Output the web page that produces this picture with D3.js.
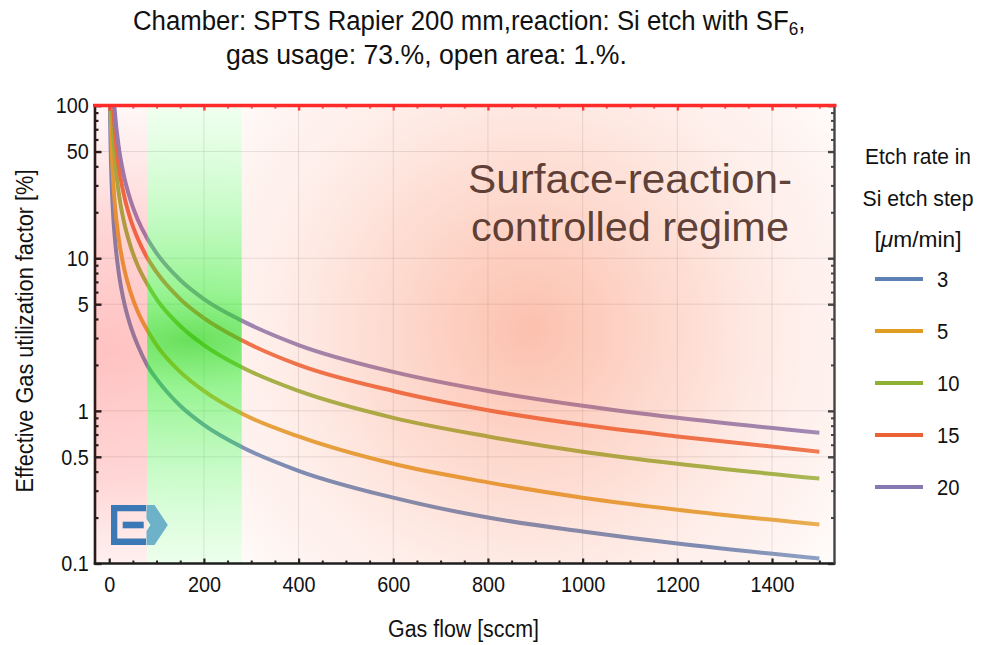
<!DOCTYPE html>
<html>
<head>
<meta charset="utf-8">
<script src="https://cdn.jsdelivr.net/npm/d3@7"></script>
<style>
    body { margin: 0; background: #fff; }
    svg { display: block; font-family: "Liberation Sans", Arial, sans-serif; }
</style>
</head>
<body>
<div id="canvas"></div>
<script>
"use strict"

let svgWidth = 991
let svgHeight = 645

let topMargin = 105.6
let rightMargin = 156.5
let bottomMargin = 81.5
let leftMargin = 95

const flowPoints = [1, 2, 3, 5, 8, 12, 20, 30, 45, 60, 80, 100, 150, 200, 280, 400, 600, 800, 1000, 1200, 1500]

// etch rates of the five curves (um/min)
const etchRates = [3, 5, 10, 15, 20]

// effective gas utilization factor (%) for each etch rate
const factorRate3 = [162, 81, 54, 32, 20, 13.5, 8.1, 5.4, 3.6, 2.7, 2.0, 1.62, 1.08, 0.81, 0.58, 0.405, 0.27, 0.2, 0.162, 0.135, 0.108]
const factorRate5 = [270, 135, 90, 54, 34, 22.5, 13.5, 9, 6, 4.5, 3.4, 2.7, 1.8, 1.35, 0.96, 0.68, 0.45, 0.34, 0.27, 0.225, 0.18]
const factorRate10 = [540, 270, 180, 108, 68, 45, 27, 18, 12, 9, 6.8, 5.4, 3.6, 2.7, 1.93, 1.35, 0.9, 0.68, 0.54, 0.45, 0.36]
const factorRate15 = [810, 405, 270, 162, 101, 68, 40, 27, 18, 13.5, 10.1, 8.1, 5.4, 4.05, 2.9, 2.0, 1.35, 1.01, 0.81, 0.68, 0.54]
const factorRate20 = [1080, 540, 360, 216, 135, 90, 54, 36, 24, 18, 13.5, 10.8, 7.2, 5.4, 3.9, 2.7, 1.8, 1.35, 1.08, 0.9, 0.72]

// flow limits of the highlighted band (sccm)
const bandLimits = [80, 280]

const xTicks = [0, 200, 400, 600, 800, 1000, 1200, 1400]
const yTicks = [0.1, 0.5, 1, 5, 10, 50, 100]
const yTickLabels = ["0.1", "0.5", "1", "5", "10", "50", "100"]

const curveColors = ["#5e81b5", "#e19c24", "#8fb032", "#eb6235", "#8778b3"]

let xScale, yScale

let svg = d3.select("#canvas")
    .append("svg")
    .attr("width", svgWidth)
    .attr("height", svgHeight)

let defs = svg.append("defs")

let plotLeft = leftMargin
let plotRight = svgWidth - rightMargin
let plotTop = topMargin
let plotBottom = svgHeight - bottomMargin

xScale = d3.scaleLinear()
    .domain([-30, 1532])
    .range([plotLeft, plotRight])

yScale = d3.scaleLog()
    .domain([0.1, 100])
    .range([plotBottom, plotTop])

defs.append("clipPath")
    .attr("id", "plotClip")
    .append("rect")
    .attr("x", plotLeft)
    .attr("y", plotTop)
    .attr("width", plotRight - plotLeft)
    .attr("height", plotBottom - plotTop)

/* gradients for the three regions */
function addStops(grad, stops) {
    grad.selectAll("stop")
        .data(stops)
        .join("stop")
        .attr("offset", d => d[0])
        .attr("stop-color", d => d[1])
        .attr("stop-opacity", d => d[2])
}

let pinkGrad = defs.append("radialGradient")
    .attr("id", "pinkGrad")
    .attr("gradientUnits", "userSpaceOnUse")
    .attr("cx", 110).attr("cy", 350).attr("r", 250)
    .attr("gradientTransform", "translate(110,350) scale(1.4,1) translate(-110,-350)")
addStops(pinkGrad, [[0, "rgb(255,95,95)", 0.38], [0.5, "rgb(255,105,105)", 0.28], [1, "rgb(255,140,140)", 0.06]])

let greenGrad = defs.append("radialGradient")
    .attr("id", "greenGrad")
    .attr("gradientUnits", "userSpaceOnUse")
    .attr("cx", 190).attr("cy", 340).attr("r", 240)
    .attr("gradientTransform", "translate(190,340) scale(2.6,1) translate(-190,-340)")
addStops(greenGrad, [[0, "rgb(40,210,20)", 0.7], [0.2, "rgb(70,235,60)", 0.56], [0.55, "rgb(110,245,110)", 0.38], [1, "rgb(165,255,165)", 0.16]])

let peachGrad = defs.append("radialGradient")
    .attr("id", "peachGrad")
    .attr("gradientUnits", "userSpaceOnUse")
    .attr("cx", 530).attr("cy", 330).attr("r", 370)
addStops(peachGrad, [[0, "rgb(248,118,78)", 0.46], [0.4, "rgb(250,138,104)", 0.31], [0.75, "rgb(252,180,160)", 0.2], [1, "rgb(255,242,236)", 0.3]])

/* grid lines */
let grid = svg.append("g").attr("class", "grid")

grid.selectAll("line.vgrid")
    .data(xTicks.filter(d => d > 0))
    .join("line")
    .classed("vgrid", true)
    .attr("x1", d => xScale(d))
    .attr("x2", d => xScale(d))
    .attr("y1", plotTop)
    .attr("y2", plotBottom)
    .attr("stroke", "#888")
    .attr("stroke-opacity", 0.25)

grid.selectAll("line.hgrid")
    .data(yTicks.filter(d => d > 0.1 && d < 100))
    .join("line")
    .classed("hgrid", true)
    .attr("x1", plotLeft)
    .attr("x2", plotRight)
    .attr("y1", d => yScale(d))
    .attr("y2", d => yScale(d))
    .attr("stroke", "#888")
    .attr("stroke-opacity", 0.25)

/* curves */
let seriesData = [factorRate3, factorRate5, factorRate10, factorRate15, factorRate20]
    .map((values, i) => ({
        rate: etchRates[i],
        color: curveColors[i],
        points: flowPoints.map((f, j) => [f, values[j]])
    }))

let line = d3.line()
    .x(d => xScale(d[0]))
    .y(d => yScale(d[1]))
    .curve(d3.curveMonotoneX)

svg.append("g")
    .attr("clip-path", "url(#plotClip)")
    .selectAll("path.curve")
    .data(seriesData)
    .join("path")
    .classed("curve", true)
    .attr("d", d => line(d.points))
    .attr("fill", "none")
    .attr("stroke", d => d.color)
    .attr("stroke-width", 4)

/* region overlays */
let overlays = svg.append("g")
overlays.append("rect")
    .attr("x", plotLeft)
    .attr("y", plotTop)
    .attr("width", xScale(bandLimits[0]) - plotLeft)
    .attr("height", plotBottom - plotTop)
    .attr("fill", "url(#pinkGrad)")
overlays.append("rect")
    .attr("x", xScale(bandLimits[0]))
    .attr("y", plotTop)
    .attr("width", xScale(bandLimits[1]) - xScale(bandLimits[0]))
    .attr("height", plotBottom - plotTop)
    .attr("fill", "url(#greenGrad)")
overlays.append("rect")
    .attr("x", xScale(bandLimits[1]))
    .attr("y", plotTop)
    .attr("width", plotRight - xScale(bandLimits[1]))
    .attr("height", plotBottom - plotTop)
    .attr("fill", "url(#peachGrad)")

/* regime text */
function fitText(sel, width) {
    let len = sel.node().getComputedTextLength()
    return width / len
}

let regime = svg.append("g")
let regimeLines = [["Surface-reaction-", 193, 324], ["controlled regime", 241, 318]]
regimeLines.forEach(function (r) {
    let t = regime.append("text")
        .attr("text-anchor", "middle")
        .attr("font-size", 40)
        .attr("fill", "#4a2a20")
        .attr("fill-opacity", 0.88)
        .text(r[0])
    let s = fitText(t, r[2])
    t.attr("transform", `translate(630,${r[1]}) scale(${s},1)`)
})

/* logo */
let logo = svg.append("g")
logo.append("path")
    .attr("d", "M146,505 H111 V545 H146 V538.5 H117.3 V511.3 H146 Z")
    .attr("fill", "#3b78b6")
logo.append("rect")
    .attr("x", 122.7).attr("y", 521.7).attr("width", 21).attr("height", 6.6)
    .attr("fill", "#3b78b6")
logo.append("path")
    .attr("d", "M146.5,505 H154.5 L167.8,525 L154.5,545 H146.5 V531 L150.5,525 L146.5,519 Z")
    .attr("fill", "#6db2c8")

/* axes and ticks */
function styleTicks(g, color, width) {
    g.select(".domain").remove()
    g.selectAll(".tick line").attr("stroke", color).attr("stroke-width", width)
}

let minorX = d3.range(0, 1501, 50).filter(d => d % 200 !== 0)
let minorY = []
;[0.1, 1, 10].forEach(function (dec) {
    for (let k = 2; k <= 9; k++) {
        if (k !== 5) minorY.push(dec * k)
    }
})

// bottom
svg.append("g")
    .attr("transform", `translate(0,${plotBottom})`)
    .call(d3.axisBottom(xScale).tickValues(minorX).tickSize(-3).tickFormat(""))
    .call(g => styleTicks(g, "#222", 2))

let xAxis = svg.append("g")
    .attr("transform", `translate(0,${plotBottom})`)
    .call(d3.axisBottom(xScale).tickValues(xTicks).tickSize(-5).tickPadding(13).tickFormat(d3.format("d")))
    .call(g => styleTicks(g, "#222", 2.2))
xAxis.selectAll("text")
    .attr("font-size", 22.5)
    .attr("fill", "#111")
    .attr("font-family", "Liberation Sans, Arial, sans-serif")
    .attr("transform", "scale(0.88,1)")

// top
svg.append("g")
    .attr("transform", `translate(0,${plotTop})`)
    .call(d3.axisTop(xScale).tickValues(minorX).tickSize(-3).tickFormat(""))
    .call(g => styleTicks(g, "#ff5050", 2))
svg.append("g")
    .attr("transform", `translate(0,${plotTop})`)
    .call(d3.axisTop(xScale).tickValues(xTicks).tickSize(-5).tickFormat(""))
    .call(g => styleTicks(g, "#ff4040", 2.4))

// left
svg.append("g")
    .attr("transform", `translate(${plotLeft},0)`)
    .call(d3.axisLeft(yScale).tickValues(minorY).tickSize(-3.5).tickFormat(""))
    .call(g => styleTicks(g, "#2a1a1a", 2.2))

let yAxis = svg.append("g")
    .attr("transform", `translate(${plotLeft},0)`)
    .call(d3.axisLeft(yScale).tickValues(yTicks).tickSize(-6.5).tickPadding(7)
        .tickFormat((d, i) => yTickLabels[i]))
    .call(g => styleTicks(g, "#2a1a1a", 2.4))
yAxis.selectAll("text")
    .attr("font-size", 22.5)
    .attr("fill", "#111")
    .attr("font-family", "Liberation Sans, Arial, sans-serif")
    .attr("transform", "scale(0.88,1)")

// right
svg.append("g")
    .attr("transform", `translate(${plotRight},0)`)
    .call(d3.axisRight(yScale).tickValues(minorY).tickSize(-3.5).tickFormat(""))
    .call(g => styleTicks(g, "#444", 2))
svg.append("g")
    .attr("transform", `translate(${plotRight},0)`)
    .call(d3.axisRight(yScale).tickValues(yTicks).tickSize(-6.5).tickFormat(""))
    .call(g => styleTicks(g, "#444", 2.4))

// frame
svg.append("line")
    .attr("x1", plotLeft).attr("x2", plotLeft)
    .attr("y1", plotTop).attr("y2", plotBottom + 1.2)
    .attr("stroke", "#2a1a1a").attr("stroke-width", 2.6)
svg.append("line")
    .attr("x1", plotLeft - 1.2).attr("x2", plotRight + 1)
    .attr("y1", plotBottom).attr("y2", plotBottom)
    .attr("stroke", "#1e1e1e").attr("stroke-width", 2.6)
svg.append("line")
    .attr("x1", plotRight).attr("x2", plotRight)
    .attr("y1", plotTop).attr("y2", plotBottom)
    .attr("stroke", "#444").attr("stroke-width", 2.4)

// 100 % line
svg.append("line")
    .attr("x1", plotLeft - 2).attr("x2", plotRight + 2)
    .attr("y1", yScale(100)).attr("y2", yScale(100))
    .attr("stroke", "#ff2a2a").attr("stroke-width", 3.5)

/* axis titles */
let xLabel = svg.append("text")
    .attr("text-anchor", "middle")
    .attr("font-size", 23.5)
    .attr("fill", "#111")
    .text("Gas flow [sccm]")
xLabel.attr("transform", `translate(463.5,637) scale(${fitText(xLabel, 151)},1)`)

let yLabel = svg.append("text")
    .attr("text-anchor", "middle")
    .attr("font-size", 23.5)
    .attr("fill", "#111")
    .text("Effective Gas utilization factor [%]")
yLabel.attr("transform", `translate(33,331) rotate(-90) scale(${fitText(yLabel, 323)},1)`)

/* title */
let title1 = svg.append("text")
    .attr("font-size", 27)
    .attr("fill", "#111")
title1.append("tspan").text("Chamber: SPTS Rapier 200 mm,reaction: Si etch with SF")
title1.append("tspan").attr("font-size", 18).attr("dy", 5).text("6")
title1.append("tspan").attr("dy", -5).text(",")
title1.attr("transform", `translate(133,29.5) scale(${673 / title1.node().getBBox().width},1)`)

let title2 = svg.append("text")
    .attr("font-size", 27)
    .attr("fill", "#111")
    .text("gas usage: 73.%, open area: 1.%.")
title2.attr("transform", `translate(226,64) scale(${fitText(title2, 401)},1)`)

/* legend */
let legend = svg.append("g")
let legendTitle = ["Etch rate in", "Si etch step", "[\u03bcm/min]"]
let legendWidths = [106, 111, 87]
legend.selectAll("text.ltitle")
    .data(legendTitle)
    .join("text")
    .classed("ltitle", true)
    .attr("text-anchor", "middle")
    .attr("font-size", 22.5)
    .attr("fill", "#111")
    .each(function (d, i) {
        let t = d3.select(this)
        if (i === 2) {
            t.append("tspan").text("[")
            t.append("tspan").attr("font-style", "italic").text("\u03bc")
            t.append("tspan").text("m/min]")
        } else {
            t.text(d)
        }
        let s = fitText(t, legendWidths[i])
        t.attr("transform", `translate(918,${164 + i * 41.5}) scale(${s},1)`)
    })

let legendItems = legend.selectAll("g.item")
    .data(seriesData)
    .join("g")
    .classed("item", true)
    .attr("transform", (d, i) => `translate(0,${279 + i * 52})`)

legendItems.append("line")
    .attr("x1", 875).attr("x2", 923)
    .attr("y1", 0).attr("y2", 0)
    .attr("stroke", d => d.color)
    .attr("stroke-width", 4)

legendItems.append("text")
    .attr("y", 0)
    .attr("dy", "0.36em")
    .attr("font-size", 22.5)
    .attr("fill", "#111")
    .attr("transform", "translate(937,0) scale(0.9,1)")
    .text(d => d.rate)
</script>
</body>
</html>
